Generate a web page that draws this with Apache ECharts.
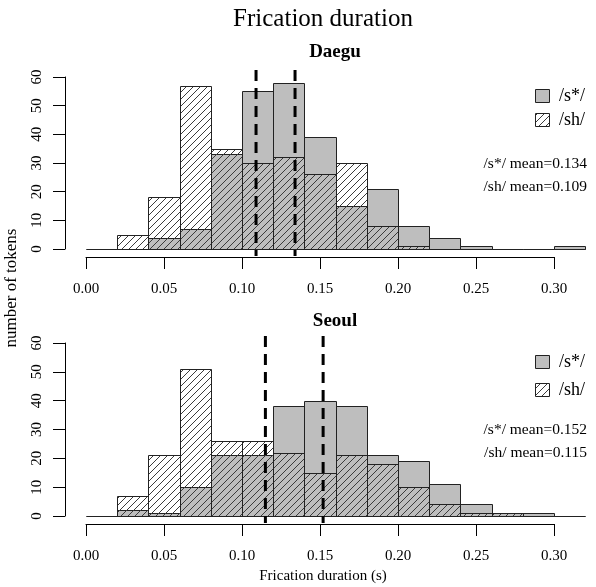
<!DOCTYPE html>
<html>
<head>
<meta charset="utf-8">
<script src="https://cdn.jsdelivr.net/npm/echarts@6/dist/echarts.min.js"></script>
<style>
  html, body { margin: 0; padding: 0; background: #fff; }
  #chart { width: 596px; height: 587px; }
</style>
</head>
<body>
<div id="chart"></div>
<script>
// histogram bins (s), counts per bin
const binEdges = [0.00, 0.02, 0.04, 0.06, 0.08, 0.10, 0.12, 0.14, 0.16, 0.18, 0.20, 0.22, 0.24, 0.26, 0.28, 0.30, 0.32];
const daeguSs = [0, 0, 4, 7, 33, 55, 58, 39, 15, 21, 8, 4, 1, 0, 0, 1];
const daeguSh = [0, 5, 18, 57, 35, 30, 32, 26, 30, 8, 1, 0, 0, 0, 0, 0];
const seoulSs = [0, 2, 1, 10, 21, 21, 38, 40, 38, 21, 19, 11, 4, 1, 1, 0];
const seoulSh = [0, 7, 21, 51, 26, 26, 22, 15, 21, 18, 10, 4, 1, 1, 0, 0];
const daeguMeans = [0.134, 0.109]; // /s*/, /sh/
const seoulMeans = [0.152, 0.115];
const groupNames = ['/s*/', '/sh/'];
const xStep = 0.05, xMax = 0.30;
const yStep = 10, yMax = 60;

(() => {
  const target = document.querySelector('#chart');
  const chart = echarts.init(target, null, { renderer: 'canvas' });
  const font = 'Liberation Serif';
  const gray = '#bebebe';

  const hatchCanvas = document.createElement('canvas');
  hatchCanvas.width = 7; hatchCanvas.height = 7;
  const g = hatchCanvas.getContext('2d');
  g.strokeStyle = '#3c3c3c'; g.lineWidth = 1;
  g.beginPath();
  g.moveTo(0, 7); g.lineTo(7, 0);
  g.moveTo(-1, 1); g.lineTo(1, -1);
  g.moveTo(6, 8); g.lineTo(8, 6);
  g.stroke();
  const hatch = { image: hatchCanvas, repeat: 'repeat' };

  const bins = (counts) => counts.map((c, i) => [binEdges[i], binEdges[i + 1], c]);
  const snap = (v) => Math.round(v) + 0.5;

  const barRender = (fill) => (params, api) => {
    const a = api.coord([api.value(0), api.value(2)]);
    const b = api.coord([api.value(1), 0]);
    const x0 = snap(a[0]), x1 = snap(b[0]), y0 = snap(b[1]), y1 = snap(a[1]);
    if (api.value(2) === 0) {
      return { type: 'line', shape: { x1: x0, y1: y0, x2: x1, y2: y0 }, style: { stroke: '#222', lineWidth: 1 } };
    }
    return {
      type: 'rect',
      shape: { x: x0, y: y1, width: x1 - x0, height: y0 - y1 },
      style: { fill, stroke: '#222', lineWidth: 1 },
    };
  };

  // R ablines span the whole plot region (axis range padded by 4%)
  const meanRender = (params, api) => {
    const top = api.coord([api.value(0), yMax * 1.04]);
    const bot = api.coord([api.value(0), -yMax * 0.04]);
    return {
      type: 'line',
      shape: { x1: top[0], y1: top[1], x2: bot[0], y2: bot[1] },
      style: { stroke: '#000', lineWidth: 3, lineDash: [11, 7] },
    };
  };

  const panelSeries = (idx, ss, sh, means) => [
    { type: 'custom', xAxisIndex: idx, yAxisIndex: idx, data: bins(ss), encode: { x: [0, 1], y: 2 }, renderItem: barRender(gray), z: 2 },
    { type: 'custom', xAxisIndex: idx, yAxisIndex: idx, data: bins(sh), encode: { x: [0, 1], y: 2 }, renderItem: barRender(hatch), z: 3 },
    { type: 'custom', xAxisIndex: idx, yAxisIndex: idx, data: means.map((m) => [m, 0]), encode: { x: 0, y: 1 }, renderItem: meanRender, z: 4 },
  ];

  const xAxis = (idx) => ({
    type: 'value', gridIndex: idx, min: 0, max: xMax, interval: xStep, offset: 8,
    axisLine: { show: true, onZero: false, lineStyle: { color: '#000', width: 1 } },
    axisTick: { show: true, length: 12, lineStyle: { color: '#000' } },
    axisLabel: { margin: 25, color: '#000', fontFamily: font, fontSize: 15, formatter: (v) => v.toFixed(2) },
    splitLine: { show: false },
  });
  const yAxis = (idx) => ({
    type: 'value', gridIndex: idx, min: 0, max: yMax, interval: yStep, offset: 21,
    axisLine: { show: true, onZero: false, lineStyle: { color: '#000', width: 1 } },
    axisTick: { show: true, length: 12, lineStyle: { color: '#000' } },
    axisLabel: { margin: 20, rotate: 90, color: '#000', fontFamily: font, fontSize: 15 },
    splitLine: { show: false },
  });

  const text = (str, x, y, size, opts = {}) => ({
    type: 'text', x, y, rotation: opts.rotation || 0,
    style: {
      text: str, fill: '#000', font: `${opts.bold ? 'bold ' : ''}${size}px "${font}"`,
      align: opts.align || 'left', textAlign: opts.align || 'left',
      verticalAlign: 'middle', textVerticalAlign: 'middle',
    },
  });
  const legendBox = (x, y, fill) => ({
    type: 'rect', shape: { x, y, width: 14, height: 13 },
    style: { fill, stroke: '#222', lineWidth: 1 },
  });
  const panelDecor = (top, means, rowGap) => [
    legendBox(535.5, top + 12.5, gray),
    legendBox(535.5, top + 12.5 + rowGap, hatch),
    text(groupNames[0], 559, top + 19, 18),
    text(groupNames[1], 559, top + 19 + rowGap, 18),
    text(`${groupNames[0]} mean=${means[0].toFixed(3)}`, 587, top + 87, 15.5, { align: 'right' }),
    text(`${groupNames[1]} mean=${means[1].toFixed(3)}`, 587, top + 110, 15.5, { align: 'right' }),
  ];

  chart.setOption({
    animation: false,
    grid: [
      { left: 86, width: 468, top: 77, height: 172, outerBoundsMode: 'none' },
      { left: 86, width: 468, top: 343, height: 173, outerBoundsMode: 'none' },
    ],
    xAxis: [xAxis(0), xAxis(1)],
    yAxis: [yAxis(0), yAxis(1)],
    series: [
      ...panelSeries(0, daeguSs, daeguSh, daeguMeans),
      ...panelSeries(1, seoulSs, seoulSh, seoulMeans),
    ],
    graphic: [
      text('Frication duration', 323, 19, 25, { align: 'center' }),
      text('Daegu', 335, 52, 19, { align: 'center', bold: true }),
      text('Seoul', 335, 321, 19, { align: 'center', bold: true }),
      text('number of tokens', 12, 288, 17, { align: 'center', rotation: Math.PI / 2 }),
      text('Frication duration (s)', 323, 576, 15, { align: 'center' }),
      ...panelDecor(77, daeguMeans, 24),
      ...panelDecor(343, seoulMeans, 28),
    ],
  });
})();
</script>
</body>
</html>
